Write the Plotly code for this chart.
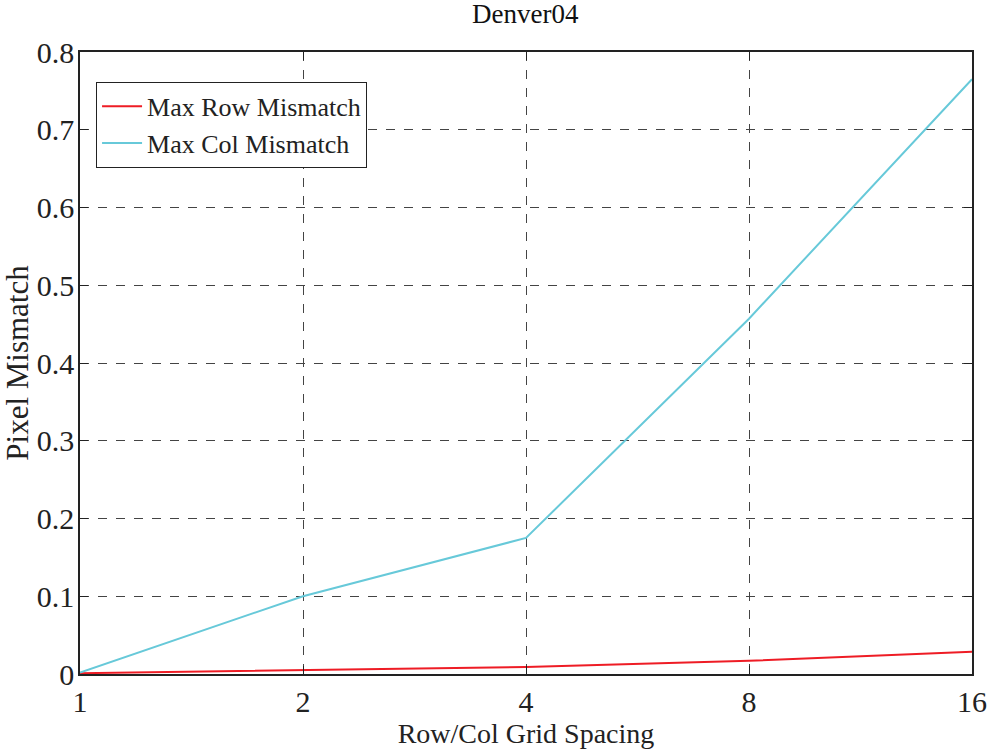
import plotly.graph_objects as go

spacing = [1, 2, 4, 8, 16]
row_mismatch = [0.001, 0.005, 0.009, 0.017, 0.0285]
col_mismatch = [0.002, 0.100, 0.175, 0.457, 0.765]
x_ticks = [1, 2, 4, 8, 16]
y_ticks = [0, 0.1, 0.2, 0.3, 0.4, 0.5, 0.6, 0.7, 0.8]
y_tick_text = ["0", "0.1", "0.2", "0.3", "0.4", "0.5", "0.6", "0.7", "0.8"]

FONT = "Liberation Serif"

fig = go.Figure()
fig.add_trace(go.Scatter(x=spacing, y=row_mismatch, mode="lines", name="Max Row Mismatch",
                         line=dict(color="#ee1c25", width=2)))
fig.add_trace(go.Scatter(x=spacing, y=col_mismatch, mode="lines", name="Max Col Mismatch",
                         line=dict(color="#67c9d9", width=2)))

axis_common = dict(
    showline=True, linecolor="#222", linewidth=1.5, mirror="ticks",
    ticks="inside", ticklen=8, tickcolor="#222", tickwidth=1,
    showgrid=True, gridcolor="#444", griddash="dash", gridwidth=1,
    zeroline=False, tickfont=dict(family=FONT, size=30, color="#222"),
    automargin=False,
)

fig.update_layout(
    width=993, height=750,
    paper_bgcolor="white", plot_bgcolor="white",
    margin=dict(l=80, r=21, t=52, b=76),
    title=dict(text="Denver04", x=0.529, xanchor="center", y=0.995, yanchor="top",
               font=dict(family=FONT, size=27, color="#111")),
    xaxis=dict(type="log", range=[0, 1.2041199826559248], tickvals=x_ticks,
               ticktext=[str(v) for v in x_ticks],
               title=dict(text="Row/Col Grid Spacing", font=dict(family=FONT, size=28, color="#222"),
                          standoff=2),
               **axis_common),
    yaxis=dict(range=[0, 0.8], tickvals=y_ticks, ticktext=y_tick_text,
               title=dict(text="Pixel Mismatch", font=dict(family=FONT, size=31, color="#222"),
                          standoff=0),
               ticklabelstandoff=-2,
               **axis_common),
    legend=dict(x=0.018, y=0.952, xanchor="left", yanchor="top",
                bgcolor="white", bordercolor="#222", borderwidth=1,
                font=dict(family=FONT, size=26, color="#222"),
                itemwidth=40, tracegroupgap=0),
    showlegend=True,
)

fig.write_html("out.html")
